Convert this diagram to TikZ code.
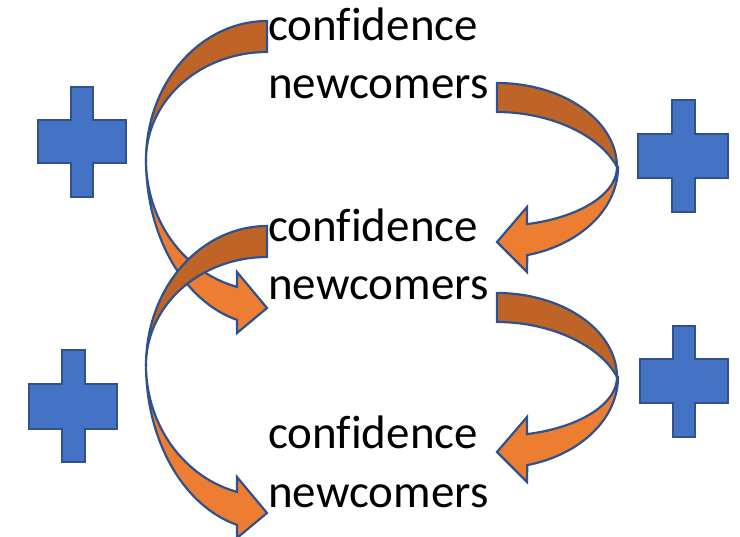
\documentclass[tikz,border=0pt]{standalone}
\usepackage{fontspec}
\setmainfont{Carlito}[Ligatures=CommonOff]
\definecolor{abl}{HTML}{4472C4}
\definecolor{abd}{HTML}{2F528F}
\definecolor{ord}{HTML}{BE6427}
\definecolor{orl}{HTML}{ED7D31}
\tikzset{
  band/.style={draw=abd, line width=2.2pt, line join=miter},
  plusshape/.style={fill=abl, draw=abd, line width=2pt, line join=miter},
  lbl/.style={anchor=base west, inner sep=0pt, font=\fontsize{47}{57}\selectfont}
}
\begin{document}
\begin{tikzpicture}[x=1pt,y=-1pt]
\useasboundingbox (0,0) rectangle (740,537);

% plus signs
\draw[plusshape] (71,87) -- (93,87) -- (93,120) -- (126,120) -- (126,163) -- (93,163) -- (93,197) -- (71,197) -- (71,163) -- (38,163) -- (38,120) -- (71,120) -- cycle;
\draw[plusshape] (672,100) -- (695,100) -- (695,134) -- (728,134) -- (728,178) -- (695,178) -- (695,212) -- (672,212) -- (672,178) -- (638,178) -- (638,134) -- (672,134) -- cycle;
\draw[plusshape] (62,350) -- (85,350) -- (85,384) -- (117,384) -- (117,429) -- (85,429) -- (85,462) -- (62,462) -- (62,429) -- (29,429) -- (29,384) -- (62,384) -- cycle;
\draw[plusshape] (673,326) -- (695,326) -- (695,359) -- (728,359) -- (728,403) -- (695,403) -- (695,437) -- (673,437) -- (673,403) -- (640,403) -- (640,359) -- (673,359) -- cycle;

% left curved arrows
\foreach \dy in {0,205}{
\begin{scope}[shift={(0,\dy)}]
\filldraw[band, fill=ord] plot[domain=-90:-180, samples=40] ({267+121*cos(\x)},{160+139*sin(\x)}) -- plot[domain=-180:-90, samples=40] ({267+121*cos(\x)},{160+108*sin(\x)}) -- cycle;
\filldraw[band, fill=orl] plot[domain=180:104.36, samples=40] ({267+121*cos(\x)},{160+165*sin(\x)}) -- (237,333) -- (267,308) -- (237,272) -- plot[domain=104.36:180, samples=40] ({267+121*cos(\x)},{160+131*sin(\x)}) -- cycle;
\end{scope}
}

% right curved arrows
\foreach \dy in {0,210}{
\begin{scope}[shift={(0,\dy)}]
\filldraw[band, fill=ord] plot[domain=-90:0, samples=40] ({497+120*cos(\x)},{167+84*sin(\x)}) .. controls (600,135) and (550,112) .. (497,112) -- cycle;
\filldraw[band, fill=orl] plot[domain=0:75.52, samples=40] ({497+121*cos(\x)},{167+91*sin(\x)}) -- (527,272) -- (497,242) -- (527,207) -- plot[domain=75.52:0, samples=40] ({497+120*cos(\x)},{167+59*sin(\x)}) -- cycle;
\end{scope}
}

% texts
\node[lbl] (c1) at (268,41) {confidence};
\node[lbl] (n1) at (268,99) {newcomers};
\node[lbl] (c2) at (268,242) {confidence};
\node[lbl] (n2) at (268,300) {newcomers};
\node[lbl] (c3) at (268,449) {confidence};
\node[lbl] (n3) at (268,508) {newcomers};
\end{tikzpicture}
\end{document}
